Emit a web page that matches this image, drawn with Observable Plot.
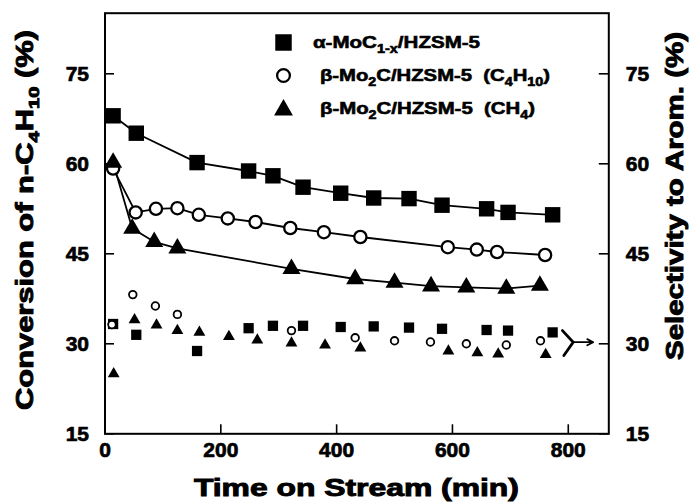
<!DOCTYPE html>
<html>
<head>
<meta charset="utf-8">
<script src="https://cdn.jsdelivr.net/npm/d3@7"></script>
<script src="https://cdn.jsdelivr.net/npm/@observablehq/plot@0.6"></script>
<style>
  html, body { margin: 0; padding: 0; background: #fff; }
  #chart { width: 695px; height: 504px; overflow: hidden; }
  svg { display: block; }
</style>
</head>
<body>
<div id="chart"></div>
<script>
// ---------- data ----------
const xTicks = [0, 200, 400, 600, 800];
const yTicks = [15, 30, 45, 60, 75];

// alpha-MoC1-x/HZSM-5 (filled squares): conversion (large, joined) and selectivity (small)
const sqTime = [14, 54, 159, 248, 290, 342, 407, 464, 525, 582, 659, 696, 773];
const sqConv = [68.0, 65.1, 60.2, 58.8, 58.0, 56.1, 55.1, 54.3, 54.2, 53.1, 52.5, 51.9, 51.5];
const sqSel  = [33.3, 31.5, 28.8, 32.6, 33.0, 33.0, 32.8, 32.9, 32.7, 32.5, 32.3, 32.2, 31.9];

// beta-Mo2C/HZSM-5 (C4H10) (open circles)
const circConvTime = [14, 53, 88, 125, 162, 212, 260, 320, 378, 441, 592, 642, 677, 760];
const circConv     = [59.2, 51.9, 52.5, 52.6, 51.5, 50.9, 50.3, 49.3, 48.6, 47.8, 46.1, 45.7, 45.3, 44.8];
const circSelTime  = [12, 48, 87, 125, 322, 432, 500, 562, 624, 693, 752];
const circSel      = [33.2, 38.2, 36.3, 34.9, 32.2, 31.0, 30.5, 30.3, 30.0, 29.8, 30.5];

// beta-Mo2C/HZSM-5 (CH4) (filled triangles)
const triConvTime = [14, 47, 85, 125, 322, 432, 500, 563, 624, 693, 751];
const triConv     = [60.2, 49.2, 47.0, 45.9, 42.5, 40.8, 40.2, 39.6, 39.4, 39.2, 39.7];
const triSelTime  = [15, 51, 89, 125, 163, 214, 263, 322, 380, 441, 593, 643, 679, 761];
const triSel      = [25.0, 34.0, 33.1, 32.2, 31.9, 31.2, 30.6, 30.1, 29.8, 29.3, 28.8, 28.5, 28.3, 28.2];

// pointer annotation (selectivity points -> right axis), in data units
const pointerArmT = [790, 808.6, 792.4];
const pointerArmV = [32.2, 30.27, 28.05];
const pointerStemT = [808.6, 843];
const pointerStemV = 30.27;

const legendLabels = [
  [["\u03b1-MoC", false], ["1-x", true], ["/HZSM-5", false]],
  [["\u03b2-Mo", false], ["2", true], ["C/HZSM-5  (C", false], ["4", true], ["H", false], ["10", true], [")", false]],
  [["\u03b2-Mo", false], ["2", true], ["C/HZSM-5  (CH", false], ["4", true], [")", false]]
];
const xTitle = [["Time on Stream (min)", false]];
const yTitleLeft = [["Conversion of n-C", false], ["4", true], ["H", false], ["10", true], [" (%)", false]];
const yTitleRight = [["Selectivity to Arom. (%)", false]];

// ---------- layout ----------
const W = 695, H = 504;
const mL = 104.5, mR = 86.7, mT = 12.7, mB = 70.7;
const plotW = W - mL - mR, plotH = H - mT - mB;
const FONT = "'Liberation Sans', Arial, Helvetica, sans-serif";
const zip = (ts, vs) => ts.map((t, i) => ({t, v: vs[i]}));
const heavy = {fontWeight: "bold", fill: "black", stroke: "black", strokeWidth: 0.7};

const chart = Plot.plot({
  width: W, height: H,
  marginLeft: mL, marginRight: mR, marginTop: mT, marginBottom: mB,
  style: {fontFamily: FONT, background: "white", color: "black", overflow: "visible"},
  x: {domain: [0, 870], axis: null},
  y: {domain: [15, 85.1], axis: null},
  marks: [
    // ticks pointing inward
    Plot.tickY(yTicks, {y: d => d, insetRight: plotW - 9.5, stroke: "black", strokeWidth: 1.6}),
    Plot.tickY(yTicks, {y: d => d, insetLeft: plotW - 9.5, stroke: "black", strokeWidth: 1.6}),
    Plot.tickX(xTicks, {x: d => d, insetTop: plotH - 9, stroke: "black", strokeWidth: 1.6}),
    // tick labels
    Plot.text(xTicks, {x: d => d, frameAnchor: "bottom", dy: 23, text: d => String(d),
      fontSize: 21, ...heavy, ariaLabel: "xticklabels"}),
    Plot.text(yTicks, {y: d => d, frameAnchor: "left", textAnchor: "end", dx: -16, text: d => String(d),
      fontSize: 21, ...heavy, ariaLabel: "yticklabels"}),
    Plot.text(yTicks, {y: d => d, frameAnchor: "right", textAnchor: "start", dx: 17, text: d => String(d),
      fontSize: 21, ...heavy, ariaLabel: "yticklabels"}),
    // connecting lines (conversion)
    Plot.line(zip(sqTime, sqConv), {x: "t", y: "v", stroke: "black", strokeWidth: 1.8}),
    Plot.line(zip(circConvTime, circConv), {x: "t", y: "v", stroke: "black", strokeWidth: 1.8}),
    Plot.line(zip(triConvTime, triConv), {x: "t", y: "v", stroke: "black", strokeWidth: 1.8}),
    // selectivity (small, unconnected)
    Plot.dot(zip(sqTime, sqSel), {x: "t", y: "v", symbol: "square", r: 5.8, fill: "black"}),
    Plot.dot(zip(triSelTime, triSel), {x: "t", y: "v", symbol: "triangle", r: 4.4, fill: "black"}),
    Plot.dot(zip(circSelTime, circSel), {x: "t", y: "v", symbol: "circle", r: 3.8, fill: "white", stroke: "black", strokeWidth: 1.8}),
    // conversion markers (large)
    Plot.dot(zip(sqTime, sqConv), {x: "t", y: "v", symbol: "square", r: 8.7, fill: "black"}),
    Plot.dot(zip(circConvTime, circConv), {x: "t", y: "v", symbol: "circle", r: 6.1, fill: "white", stroke: "black", strokeWidth: 2.3}),
    Plot.dot(zip(triConvTime, triConv), {x: "t", y: "v", symbol: "triangle", r: 6.7, fill: "black"}),
    // pointer to right axis
    Plot.line(zip(pointerArmT, pointerArmV), {x: "t", y: "v", stroke: "black", strokeWidth: 2.8}),
    Plot.arrow([{x1: pointerStemT[0], x2: pointerStemT[1], y: pointerStemV}],
      {x1: "x1", x2: "x2", y1: "y", y2: "y", stroke: "black", strokeWidth: 1.8, headLength: 7, headAngle: 55}),
    // legend symbols
    Plot.dot([0], {frameAnchor: "top-left", dx: 178.5, dy: 29.3, symbol: "square", r: 9.3, fill: "black"}),
    Plot.dot([0], {frameAnchor: "top-left", dx: 178.5, dy: 62.3, symbol: "circle", r: 6.4, fill: "white", stroke: "black", strokeWidth: 2.3}),
    Plot.dot([0], {frameAnchor: "top-left", dx: 178.5, dy: 96.8, symbol: "triangle", r: 7.0, fill: "black"}),
    Plot.frame({stroke: "black", strokeWidth: 2})
  ]
});
document.getElementById("chart").append(chart);

// ---------- text styling (wide heavy face, subscripts) ----------
function stretchGroup(label, k) {
  chart.querySelectorAll(`g[aria-label="${label}"] text`).forEach(t => {
    const L = t.getComputedTextLength();
    t.setAttribute("textLength", (L * k).toFixed(1));
    t.setAttribute("lengthAdjust", "spacingAndGlyphs");
  });
}
stretchGroup("xticklabels", 1.36);
stretchGroup("yticklabels", 1.22);

const svg = d3.select(chart);
function richText(parts, {x, y, rotate = 0, anchor = "start", size, subSize, subShift, length, weight = 0.7}) {
  const t = svg.append("text")
    .attr("transform", `translate(${x},${y}) rotate(${rotate})`)
    .attr("text-anchor", anchor)
    .attr("font-family", FONT)
    .attr("font-weight", "bold")
    .attr("font-size", size)
    .attr("fill", "black")
    .attr("stroke", "black")
    .attr("stroke-width", weight)
    .style("white-space", "pre");
  let shifted = false;
  for (const [s, sub] of parts) {
    const ts = t.append("tspan").text(s);
    if (sub) { ts.attr("font-size", subSize); if (!shifted) { ts.attr("dy", subShift); shifted = true; } }
    else if (shifted) { ts.attr("dy", -subShift); shifted = false; }
  }
  if (length) t.attr("textLength", length).attr("lengthAdjust", "spacingAndGlyphs");
  return t;
}
richText(xTitle, {x: mL + plotW / 2, y: 496, anchor: "middle", size: 23, length: 325, weight: 0.9});
richText(yTitleLeft, {x: 33, y: 220, rotate: -90, anchor: "middle", size: 23, subSize: 15, subShift: 6, length: 380, weight: 0.9});
richText(yTitleRight, {x: 683, y: 196, rotate: -90, anchor: "middle", size: 23, length: 328, weight: 0.9});
richText(legendLabels[0], {x: 313, y: 48.3, size: 17, subSize: 12, subShift: 5, length: 167, weight: 0.6});
richText(legendLabels[1], {x: 320, y: 81.3, size: 17, subSize: 12, subShift: 5, length: 230, weight: 0.6});
richText(legendLabels[2], {x: 320, y: 114.3, size: 17, subSize: 12, subShift: 5, length: 215, weight: 0.6});
</script>
</body>
</html>
